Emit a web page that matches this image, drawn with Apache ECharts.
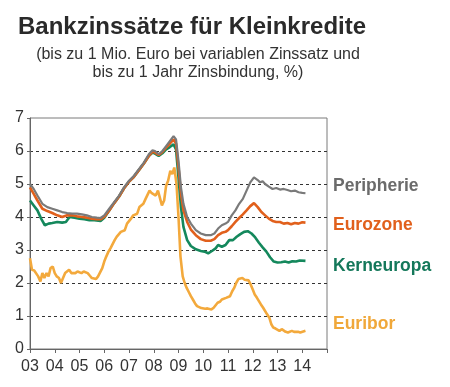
<!DOCTYPE html>
<html><head><meta charset="utf-8">
<script src="https://cdn.jsdelivr.net/npm/echarts@6/dist/echarts.min.js"></script>
<style>html,body{margin:0;padding:0;background:#fff}#c{width:450px;height:387px}</style>
</head><body><div id="c"></div>
<script>
const title = "Bankzinssätze für Kleinkredite";
const subtitle1 = "(bis zu 1 Mio. Euro bei variablen Zinssatz und";
const subtitle2 = "bis zu 1 Jahr Zinsbindung, %)";
const seriesNames = ["Peripherie", "Eurozone", "Kerneuropa", "Euribor"];
const yTicks = [0, 1, 2, 3, 4, 5, 6, 7];
const xTickYears = [2003, 2004, 2005, 2006, 2007, 2008, 2009, 2010, 2011, 2012, 2013, 2014];

const peripherie = [[2003.0,5.0],[2003.15,4.85],[2003.3,4.65],[2003.5,4.4],[2003.7,4.3],[2003.9,4.25],[2004.1,4.2],[2004.3,4.15],[2004.5,4.12],[2004.7,4.1],[2004.9,4.1],[2005.1,4.08],[2005.3,4.05],[2005.5,4.0],[2005.7,3.98],[2005.85,3.97],[2006.0,4.05],[2006.2,4.25],[2006.4,4.45],[2006.6,4.65],[2006.8,4.9],[2007.0,5.1],[2007.2,5.25],[2007.4,5.45],[2007.6,5.65],[2007.8,5.9],[2007.95,6.02],[2008.05,6.0],[2008.2,5.9],[2008.35,6.0],[2008.5,6.15],[2008.65,6.3],[2008.8,6.45],[2008.9,6.35],[2009.0,5.7],[2009.1,4.9],[2009.2,4.4],[2009.35,4.0],[2009.5,3.8],[2009.7,3.6],[2009.9,3.5],[2010.1,3.45],[2010.3,3.45],[2010.45,3.5],[2010.6,3.65],[2010.75,3.75],[2010.9,3.8],[2011.0,3.85],[2011.15,4.05],[2011.3,4.2],[2011.45,4.4],[2011.6,4.55],[2011.75,4.8],[2011.9,5.05],[2012.05,5.2],[2012.2,5.12],[2012.3,5.05],[2012.4,5.08],[2012.5,5.0],[2012.65,4.92],[2012.8,4.85],[2012.95,4.88],[2013.1,4.83],[2013.25,4.85],[2013.4,4.82],[2013.55,4.78],[2013.7,4.8],[2013.85,4.75],[2014.0,4.73],[2014.13,4.72]];
const eurozone = [[2003.0,4.9],[2003.15,4.7],[2003.3,4.5],[2003.5,4.25],[2003.7,4.18],[2003.9,4.12],[2004.1,4.05],[2004.3,4.0],[2004.5,4.05],[2004.7,4.05],[2004.9,4.02],[2005.1,4.0],[2005.3,3.98],[2005.5,3.95],[2005.7,3.93],[2005.85,3.93],[2006.0,4.0],[2006.2,4.2],[2006.4,4.42],[2006.6,4.62],[2006.8,4.87],[2007.0,5.07],[2007.2,5.22],[2007.4,5.42],[2007.6,5.62],[2007.8,5.85],[2007.95,5.98],[2008.05,5.95],[2008.2,5.88],[2008.35,5.97],[2008.5,6.1],[2008.65,6.22],[2008.8,6.35],[2008.9,6.22],[2009.0,5.5],[2009.1,4.7],[2009.2,4.2],[2009.35,3.85],[2009.5,3.62],[2009.7,3.45],[2009.9,3.33],[2010.1,3.28],[2010.3,3.28],[2010.45,3.33],[2010.6,3.45],[2010.75,3.52],[2010.9,3.55],[2011.0,3.6],[2011.15,3.72],[2011.3,3.85],[2011.45,3.97],[2011.6,4.08],[2011.75,4.2],[2011.9,4.33],[2012.05,4.42],[2012.2,4.3],[2012.35,4.15],[2012.5,4.05],[2012.65,3.95],[2012.8,3.88],[2012.95,3.85],[2013.1,3.85],[2013.25,3.8],[2013.4,3.82],[2013.55,3.78],[2013.7,3.82],[2013.85,3.8],[2014.0,3.84],[2014.13,3.83]];
const kerneuropa = [[2003.0,4.5],[2003.15,4.35],[2003.3,4.2],[2003.45,3.95],[2003.6,3.75],[2003.75,3.8],[2003.9,3.82],[2004.1,3.85],[2004.3,3.83],[2004.45,3.85],[2004.6,4.0],[2004.8,3.98],[2005.0,3.95],[2005.2,3.93],[2005.4,3.9],[2005.6,3.9],[2005.85,3.88],[2006.0,3.98],[2006.2,4.2],[2006.4,4.42],[2006.6,4.62],[2006.8,4.87],[2007.0,5.07],[2007.2,5.22],[2007.4,5.42],[2007.6,5.62],[2007.8,5.85],[2007.95,5.95],[2008.05,5.92],[2008.2,5.85],[2008.35,5.93],[2008.5,6.05],[2008.65,6.12],[2008.8,6.2],[2008.9,6.05],[2009.0,5.2],[2009.1,4.3],[2009.2,3.7],[2009.35,3.3],[2009.5,3.12],[2009.7,3.02],[2009.9,2.97],[2010.05,2.95],[2010.2,2.9],[2010.35,2.97],[2010.5,3.05],[2010.6,3.15],[2010.75,3.1],[2010.9,3.15],[2011.05,3.3],[2011.2,3.3],[2011.35,3.4],[2011.5,3.48],[2011.65,3.55],[2011.8,3.57],[2011.95,3.5],[2012.1,3.38],[2012.25,3.22],[2012.4,3.08],[2012.55,2.95],[2012.7,2.78],[2012.85,2.65],[2013.0,2.62],[2013.15,2.63],[2013.3,2.65],[2013.45,2.62],[2013.6,2.66],[2013.75,2.65],[2013.9,2.68],[2014.13,2.67]];
const euribor = [[2003.0,2.75],[2003.08,2.4],[2003.17,2.38],[2003.25,2.35],[2003.33,2.2],[2003.42,2.05],[2003.5,2.3],[2003.58,2.15],[2003.67,2.3],[2003.75,2.2],[2003.83,2.45],[2003.92,2.5],[2004.0,2.3],[2004.08,2.2],[2004.17,2.15],[2004.25,2.0],[2004.33,1.98],[2004.42,2.3],[2004.5,2.35],[2004.58,2.4],[2004.67,2.3],[2004.75,2.35],[2004.83,2.3],[2004.92,2.35],[2005.0,2.3],[2005.08,2.3],[2005.17,2.35],[2005.25,2.3],[2005.33,2.3],[2005.42,2.22],[2005.5,2.15],[2005.58,2.1],[2005.67,2.12],[2005.75,2.2],[2005.83,2.25],[2005.92,2.45],[2006.0,2.65],[2006.08,2.8],[2006.17,2.95],[2006.25,3.05],[2006.33,3.1],[2006.42,3.3],[2006.5,3.4],[2006.58,3.45],[2006.67,3.55],[2006.75,3.6],[2006.83,3.6],[2006.92,3.8],[2007.0,3.85],[2007.08,3.95],[2007.17,4.05],[2007.25,4.1],[2007.33,4.1],[2007.42,4.3],[2007.5,4.35],[2007.58,4.4],[2007.67,4.55],[2007.75,4.6],[2007.83,4.8],[2007.92,4.72],[2008.0,4.75],[2008.08,4.65],[2008.17,4.8],[2008.25,4.75],[2008.33,4.35],[2008.42,4.5],[2008.5,4.95],[2008.58,5.1],[2008.67,5.4],[2008.75,5.3],[2008.83,5.5],[2008.92,5.0],[2009.0,4.0],[2009.08,2.8],[2009.17,2.2],[2009.25,2.0],[2009.33,1.85],[2009.42,1.72],[2009.5,1.6],[2009.58,1.5],[2009.67,1.38],[2009.75,1.3],[2009.83,1.25],[2009.92,1.24],[2010.0,1.24],[2010.08,1.22],[2010.17,1.23],[2010.25,1.22],[2010.33,1.2],[2010.42,1.25],[2010.5,1.3],[2010.58,1.4],[2010.67,1.43],[2010.75,1.5],[2010.83,1.48],[2010.92,1.55],[2011.0,1.55],[2011.08,1.6],[2011.17,1.75],[2011.25,1.85],[2011.33,2.0],[2011.42,2.12],[2011.5,2.18],[2011.58,2.15],[2011.67,2.1],[2011.75,2.12],[2011.83,2.08],[2011.92,1.95],[2012.0,1.8],[2012.08,1.65],[2012.17,1.55],[2012.25,1.45],[2012.33,1.35],[2012.42,1.25],[2012.5,1.22],[2012.58,1.05],[2012.67,0.95],[2012.75,0.75],[2012.83,0.65],[2012.92,0.62],[2013.0,0.6],[2013.08,0.55],[2013.17,0.6],[2013.25,0.55],[2013.33,0.52],[2013.42,0.5],[2013.5,0.48],[2013.58,0.55],[2013.67,0.52],[2013.75,0.55],[2013.83,0.52],[2013.92,0.5],[2014.0,0.55],[2014.13,0.55]];

const colors = ["#7a7a7a", "#e1601c", "#14885c", "#f3a93c"];
const labelColors = ["#6b6b6b", "#e1601c", "#14785a", "#f0a83a"];
const allData = [peripherie, eurozone, kerneuropa, euribor];

const chart = echarts.init(document.getElementById('c'), null, {renderer: 'canvas'});
const axisFont = {fontFamily: "'Liberation Sans Narrow', 'Liberation Sans', Arial, sans-serif", fontSize: 16, color: '#333'};
const labelY = [186, 225, 266, 324];
chart.setOption({
  animation: false,
  backgroundColor: '#fff',
  grid: {left: 30, right: 123, top: 118, bottom: 38, show: true, borderColor: '#7a7a7a', borderWidth: 1},
  xAxis: {
    type: 'value', min: 2003, max: 2015, interval: 1,
    axisLine: {show: true, lineStyle: {color: '#666'}},
    axisTick: {show: true, length: 4, lineStyle: {color: '#666'}, customValues: xTickYears.concat([2015])},
    axisLabel: Object.assign({margin: 10, customValues: xTickYears, formatter: v => String(v % 100).padStart(2, '0')}, axisFont),
    splitLine: {show: false}
  },
  yAxis: {
    type: 'value', min: 0, max: 7, interval: 1,
    axisLine: {show: true, lineStyle: {color: '#666'}},
    axisTick: {show: true, length: 3, lineStyle: {color: '#666'}},
    axisLabel: Object.assign({margin: 6, customValues: yTicks}, axisFont),
    splitLine: {show: true, showMinLine: false, showMaxLine: false, lineStyle: {color: '#333', type: [3, 3], width: 1}}
  },
  series: allData.map((d, i) => ({
    name: seriesNames[i], type: 'line', data: d, showSymbol: false, symbol: 'none',
    lineStyle: {color: colors[i], width: i === 0 ? 2.2 : 2.6},
    z: [5, 4, 3, 2][i]
  })),
  graphic: [
    {type: 'text', style: {text: title, x: 192, y: 27, align: 'center', verticalAlign: 'middle', font: "bold 24px 'Liberation Sans', Arial, sans-serif", fill: '#2a2a2a'}},
    {type: 'text', style: {text: subtitle1, x: 198, y: 55, align: 'center', verticalAlign: 'middle', font: "16px 'Liberation Sans', Arial, sans-serif", fill: '#333'}},
    {type: 'text', style: {text: subtitle2, x: 198, y: 73, align: 'center', verticalAlign: 'middle', font: "16px 'Liberation Sans', Arial, sans-serif", fill: '#333'}}
  ].concat(seriesNames.map((n, i) => ({
    type: 'text', style: {text: n, x: 333, y: labelY[i], verticalAlign: 'middle', font: "bold 17.5px 'Liberation Sans', Arial, sans-serif", fill: labelColors[i]}
  })))
});
</script></body></html>
